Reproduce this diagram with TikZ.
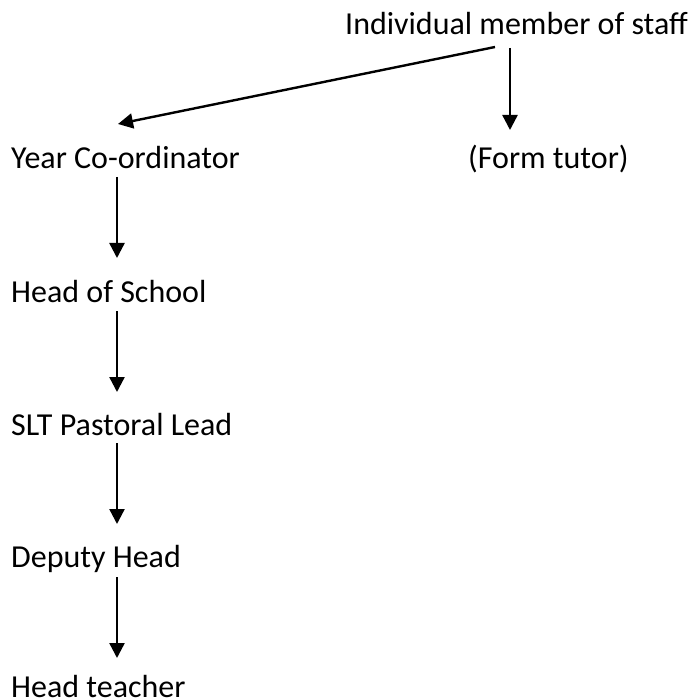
\documentclass[tikz,border=0pt]{standalone}
\usepackage{fontspec}
\setmainfont{Carlito}
\usetikzlibrary{arrows.meta}
\begin{document}
\begin{tikzpicture}[x=1pt,y=-1pt,
  lbl/.style={inner sep=0pt,anchor=base west,font=\fontsize{32}{38}\selectfont},
  arr/.style={line width=2.4pt,-{Triangle[length=15pt,width=15pt]}}]
\useasboundingbox (0,0) rectangle (692,700);
\node[lbl] (ind) at (345,35) {Individual member of staff};
\node[lbl] (yc) at (11,169) {Year Co-ordinator};
\node[lbl] (ft) at (468,169) {(Form tutor)};
\node[lbl] (hs) at (11,302) {Head of School};
\node[lbl] (slt) at (11,435) {SLT Pastoral Lead};
\node[lbl] (dh) at (11,567) {Deputy Head};
\node[lbl,text depth=0pt] (ht) at (11,697) {Head teacher};
\coordinate (ax) at (117,0);
\coordinate (bx) at (510,0);
\draw[arr] ([yshift=-13pt]ind.base -| bx) -- ([yshift=39pt]ft.base -| bx);
\draw[arr] ([xshift=150pt,yshift=-12pt]ind.base west) -- ([xshift=107pt,yshift=45pt]yc.base west);
\draw[arr] ([yshift=-8pt]yc.base -| ax) -- ([yshift=44pt]hs.base -| ax);
\draw[arr] ([yshift=-9pt]hs.base -| ax) -- ([yshift=43pt]slt.base -| ax);
\draw[arr] ([yshift=-8pt]slt.base -| ax) -- ([yshift=43pt]dh.base -| ax);
\draw[arr] ([yshift=-10pt]dh.base -| ax) -- ([yshift=39pt]ht.base -| ax);
\end{tikzpicture}
\end{document}
